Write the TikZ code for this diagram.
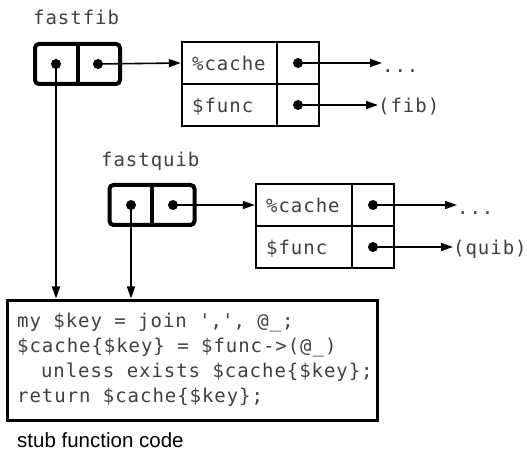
\documentclass[tikz,border=0pt]{standalone}
\usepackage{fontspec}
\setmainfont{Liberation Sans}
\newfontfamily\monof[LetterSpace=5]{DejaVu Sans Mono}
\usetikzlibrary{arrows.meta}
\begin{document}
\begin{tikzpicture}[x=1bp,y=-1bp,
  mono/.style={font=\monof\fontsize{19bp}{25bp}\selectfont, text=black!75, inner sep=0pt},
  ptrbox/.style={draw, line width=4bp, rounded corners=4bp, minimum width=85bp, minimum height=40bp, inner sep=0pt},
  cell/.style={draw, line width=2.4bp, inner sep=0pt, minimum height=42bp},
  ptr/.style={line width=1.6bp, -{Triangle[length=12bp,width=8bp]}},
  dotm/.style={circle, fill=black, inner sep=0pt, minimum size=10bp},
]
\useasboundingbox (0,0) rectangle (527,452);

% ---- fastfib ----
\node[mono, anchor=base west] (lblfib) at (33,25) {fastfib};
\node[ptrbox] (fib) at (77.5,64) {};
\draw[line width=4bp] (fib.north) -- (fib.south);
\node[dotm] (fibL) at (56,64) {};
\node[dotm] (fibR) at (98,64) {};

\node[cell, minimum width=95bp] (fcn) at (229.5,63) {};
\node[cell, minimum width=42bp] (fcv) at (298,63) {};
\node[cell, minimum width=95bp] (ffn) at (229.5,105) {};
\node[cell, minimum width=42bp] (ffv) at (298,105) {};
\node[mono, anchor=base west] (fcnt) at (192,71) {\%cache};
\node[mono, anchor=base west] (ffnt) at (192,113) {\$func};
\node[dotm] (fcd) at (298,63) {};
\node[dotm] (ffd) at (298,105) {};
\node[mono, anchor=base west] (fdots) at (382,73) {...};
\node[mono, anchor=base west] (ffname) at (378,113) {(fib)};

\draw[ptr] (fibR.center) -- (fcn.west);
\draw[ptr] (fcd.center) -- (fdots.west |- fcd.center);
\draw[ptr] (ffd.center) -- (ffname.west |- ffd.center);

% ---- fastquib ----
\node[mono, anchor=base west] (lblquib) at (101,167) {fastquib};
\node[ptrbox] (quib) at (152,205) {};
\draw[line width=4bp] (quib.north) -- (quib.south);
\node[dotm] (quibL) at (131,205) {};
\node[dotm] (quibR) at (173,205) {};

\node[cell, minimum width=96bp] (qcn) at (304,205) {};
\node[cell, minimum width=42bp] (qcv) at (373,205) {};
\node[cell, minimum width=96bp] (qfn) at (304,247) {};
\node[cell, minimum width=42bp] (qfv) at (373,247) {};
\node[mono, anchor=base west] (qcnt) at (266,213) {\%cache};
\node[mono, anchor=base west] (qfnt) at (266,255) {\$func};
\node[dotm] (qcd) at (373,205) {};
\node[dotm] (qfd) at (373,247) {};
\node[mono, anchor=base west] (qdots) at (457,215) {...};
\node[mono, anchor=base west] (qfname) at (453,255) {(quib)};

\draw[ptr] (quibR.center) -- (qcn.west);
\draw[ptr] (qcd.center) -- (qdots.west |- qcd.center);
\draw[ptr] (qfd.center) -- (qfname.west |- qfd.center);

% ---- stub code ----
\node[draw, line width=3bp, minimum width=369bp, minimum height=120bp, inner sep=0pt] (code) at (192.5,360) {};
\node[mono, anchor=base west] (c1) at (17,327) {my \$key = join \textquotesingle,\textquotesingle, @\_;};
\node[mono, anchor=base west] (c2) at (17,352) {\$cache\{\$key\} = \$func->(@\_)};
\node[mono, anchor=base west] (c3) at (17,377) {\phantom{xx}unless exists \$cache\{\$key\};};
\node[mono, anchor=base west] (c4) at (17,402) {return \$cache\{\$key\};};

\draw[ptr] (fibL.center) -- (fibL.center |- code.north);
\draw[ptr] (quibL.center) -- (quibL.center |- code.north);

\node[anchor=base west, inner sep=0pt, font=\fontsize{20.5bp}{24bp}\selectfont] (cap) at (17,447) {stub function code};
\end{tikzpicture}
\end{document}
